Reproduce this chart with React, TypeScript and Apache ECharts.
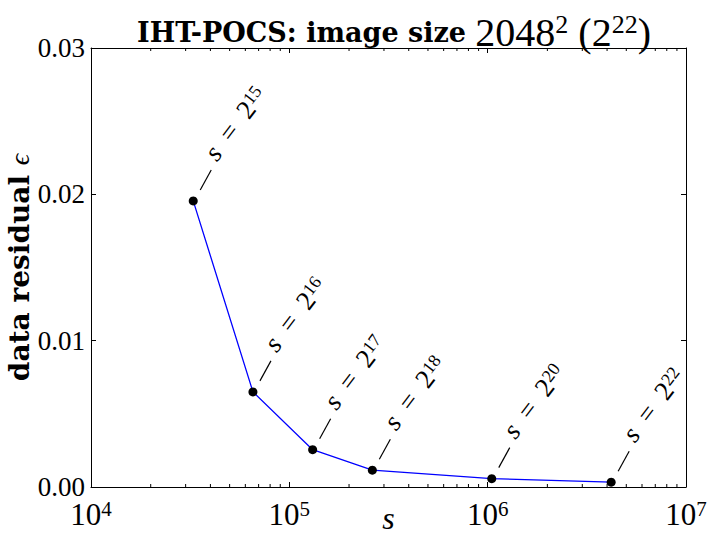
import React, { useEffect, useRef } from "react";
import * as echarts from "echarts";

const sizes = [32768, 65536, 131072, 262144, 1048576, 4194304];
const exponents = [15, 16, 17, 18, 20, 22];
const residuals = [0.01955, 0.0065, 0.00255, 0.00115, 0.00057, 0.00033];
const yTicks = [0, 0.01, 0.02, 0.03];
const minorTicks: number[] = [];
for (let e = 4; e < 7; e++) {
  for (let k = 2; k <= 9; k++) minorTicks.push(k * Math.pow(10, e));
}

const FONT = "Liberation Serif";
const BOLD = "DejaVu Serif";

export default function App() {
  const ref = useRef<HTMLDivElement>(null);
  useEffect(() => {
    if (!ref.current) return;
    const chart = echarts.init(ref.current, null, { renderer: "svg" });
    const axisLine = { show: true, onZero: false, lineStyle: { color: "#000", width: 1 } };
    const tickStyle = { show: true, inside: true, length: 5, lineStyle: { color: "#000", width: 1 } };
    const option: any = {
      animation: false,
      backgroundColor: "#fff",
      title: {
        text: "{b|IHT-POCS: image size }{n|2048}{sup|2}{n| (2}{sup|22}{n|)}",
        left: 389,
        top: 6,
        textAlign: "center",
        textStyle: {
          fontWeight: "normal",
          rich: {
            b: { fontFamily: BOLD, fontWeight: "bold", fontSize: 27, color: "#000", lineHeight: 42 },
            n: { fontFamily: FONT, fontWeight: "normal", fontSize: 40, color: "#000", lineHeight: 42 },
            sup: { fontFamily: FONT, fontWeight: "normal", fontSize: 26, color: "#000", verticalAlign: "top", lineHeight: 26 },
          },
        },
      },
      grid: { left: 91, right: 28, top: 48, bottom: 59, containLabel: false, outerBoundsMode: "none" },
      xAxis: [
        {
          type: "log",
          logBase: 10,
          min: 1e4,
          max: 1e7,
          position: "bottom",
          axisLine,
          axisTick: tickStyle,
          splitLine: { show: false },
          axisLabel: {
            margin: 11,
            formatter: (v: number) => `{b|10}{sup|${Math.round(Math.log10(v))}}`,
            rich: {
              b: { fontFamily: FONT, fontSize: 31, color: "#000", lineHeight: 32 },
              sup: { fontFamily: FONT, fontSize: 21, color: "#000", verticalAlign: "top", lineHeight: 21 },
            },
          },
          name: "s",
          nameLocation: "middle",
          nameGap: 15,
          nameMoveOverlap: false,
          nameTextStyle: { fontFamily: FONT, fontStyle: "italic", fontSize: 32, color: "#000" },
        },
        {
          type: "log",
          logBase: 10,
          min: 1e4,
          max: 1e7,
          position: "top",
          axisLine,
          axisTick: tickStyle,
          axisLabel: { show: false },
          splitLine: { show: false },
        },
      ],
      yAxis: [
        {
          type: "value",
          min: 0,
          max: 0.03,
          interval: 0.01,
          position: "left",
          axisLine,
          axisTick: tickStyle,
          splitLine: { show: false },
          axisLabel: {
            margin: 6,
            formatter: (v: number) => (yTicks.includes(Number(v.toFixed(2))) ? v.toFixed(2) : ""),
            fontFamily: FONT,
            fontSize: 27,
            color: "#000",
          },
          name: "{b|data residual }{e|ϵ}",
          nameLocation: "middle",
          nameRotate: 90,
          nameGap: 58,
          nameMoveOverlap: false,
          nameTextStyle: {
            rich: {
              b: { fontFamily: BOLD, fontWeight: "bold", fontSize: 28, color: "#000" },
              e: { fontFamily: FONT, fontStyle: "italic", fontSize: 28, color: "#000" },
            },
          },
        },
        {
          type: "value",
          min: 0,
          max: 0.03,
          interval: 0.01,
          position: "right",
          axisLine,
          axisTick: tickStyle,
          axisLabel: { show: false },
          splitLine: { show: false },
        },
      ],
      series: [
        {
          type: "line",
          data: sizes.map((s, i) => [s, residuals[i]]),
          lineStyle: { color: "#0000ff", width: 1.3 },
          symbol: "circle",
          symbolSize: 9,
          itemStyle: { color: "#000", borderWidth: 0 },
          z: 3,
        },
        {
          type: "custom",
          data: minorTicks.map((v) => [v, 0]),
          encode: { x: 0, y: 1 },
          silent: true,
          renderItem: (params: any, api: any) => {
            const v = api.value(0);
            const b = api.coord([v, 0]);
            const t = api.coord([v, 0.03]);
            return {
              type: "group",
              children: [
                { type: "line", shape: { x1: b[0], y1: b[1], x2: b[0], y2: b[1] - 3 }, style: { stroke: "#000", lineWidth: 1 } },
                { type: "line", shape: { x1: t[0], y1: t[1], x2: t[0], y2: t[1] + 3 }, style: { stroke: "#000", lineWidth: 1 } },
              ],
            };
          },
          z: 2,
        },
        {
          type: "custom",
          data: sizes.map((s, i) => [s, residuals[i], exponents[i]]),
          encode: { x: 0, y: 1 },
          silent: true,
          clip: false,
          renderItem: (params: any, api: any) => {
            const p = api.coord([api.value(0), api.value(1)]);
            const ex = api.value(2);
            return {
              type: "group",
              children: [
                { type: "line", shape: { x1: p[0] + 7, y1: p[1] - 11, x2: p[0] + 18, y2: p[1] - 31 }, style: { stroke: "#000", lineWidth: 1.2 } },
                {
                  type: "text",
                  x: p[0] + 27,
                  y: p[1] - 36,
                  rotation: 0.92,
                  style: {
                    text: `{i|s}{n|\u2002=\u20022}{sup|${ex}}`,
                    align: "left",
                    verticalAlign: "bottom",
                    rich: {
                      i: { fontFamily: FONT, fontStyle: "italic", fontSize: 27, fill: "#000", lineHeight: 26 },
                      n: { fontFamily: FONT, fontSize: 27, fill: "#000", lineHeight: 26 },
                      sup: { fontFamily: FONT, fontSize: 18, fill: "#000", verticalAlign: "top", lineHeight: 18 },
                    },
                  },
                },
              ],
            };
          },
          z: 4,
        },
      ],
    };
    chart.setOption(option);
    return () => chart.dispose();
  }, []);
  return (
    <div
      ref={ref}
      style={{ position: "fixed", left: 0, top: 0, width: 714, height: 546, background: "#fff" }}
    />
  );
}
